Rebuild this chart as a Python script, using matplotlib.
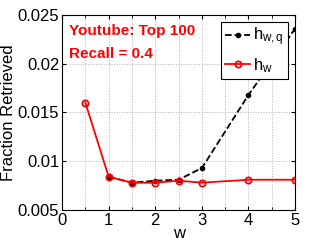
import matplotlib
matplotlib.use("Agg")
import matplotlib.pyplot as plt

plt.rcParams['font.family'] = ['Liberation Sans', 'DejaVu Sans']
plt.rcParams['mathtext.fontset'] = 'custom'
plt.rcParams['mathtext.rm'] = 'Liberation Sans'
plt.rcParams['mathtext.it'] = 'Liberation Sans'

w = [0.5, 1, 1.5, 2, 2.5, 3, 4, 5]
w_q = [1, 1.5, 2, 2.5, 3, 4, 5]
h_wq = [0.0084, 0.0078, 0.0080, 0.0081, 0.0093, 0.0168, 0.0236]
h_w = [0.016, 0.0084, 0.0078, 0.0078, 0.0080, 0.0078, 0.0081, 0.0081]

fig = plt.figure(figsize=(3.25, 2.45), dpi=100)
ax = fig.add_axes([0.191, 0.143, 0.717, 0.796])

ax.plot(w_q, h_wq, '--', color='black', lw=1.3, marker='o', ms=3,
        mfc='black', mec='black', label=r'$\mathrm{h}_{\mathrm{w,q}}$')
ax.plot(w, h_w, '-', color='red', lw=1.3, marker='o', ms=4.5,
        mfc='none', mec='red', mew=1.3, label=r'$\mathrm{h}_{\mathrm{w}}$')

ax.set_xlim(0, 5)
ax.set_ylim(0.005, 0.025)
ax.set_xticks([0, 1, 2, 3, 4, 5])
ax.set_xticks([0.5, 1.5, 2.5, 3.5, 4.5], minor=True)
ax.set_yticks([0.005, 0.01, 0.015, 0.02, 0.025])
ax.set_yticklabels(['0.005', '0.01', '0.015', '0.02', '0.025'])
ax.tick_params(direction='in', labelsize=12, length=3, top=True, right=True, pad=2)
ax.tick_params(which='minor', direction='in', length=2, top=True)
ax.grid(True, which='both', linestyle=':', color='#b0b0b0', lw=0.7)
for s in ax.spines.values():
    s.set_linewidth(0.8)

ax.set_xlabel('w', fontsize=12, labelpad=-1)
ax.set_ylabel('Fraction Retrieved', fontsize=12, labelpad=1)

ax.text(0.03, 0.955, 'Youtube: Top 100', transform=ax.transAxes, color='red',
        fontsize=11, fontweight='bold', va='top')
ax.text(0.03, 0.835, 'Recall = 0.4', transform=ax.transAxes, color='red',
        fontsize=11, fontweight='bold', va='top')

leg = ax.legend(loc='upper right', fontsize=12, fancybox=False, framealpha=1,
                edgecolor='black', handlelength=1.5, borderpad=0.25,
                labelspacing=0.45, handletextpad=0.2, borderaxespad=0.4)
leg.get_frame().set_linewidth(0.8)

fig.savefig('out.png', dpi=100)
